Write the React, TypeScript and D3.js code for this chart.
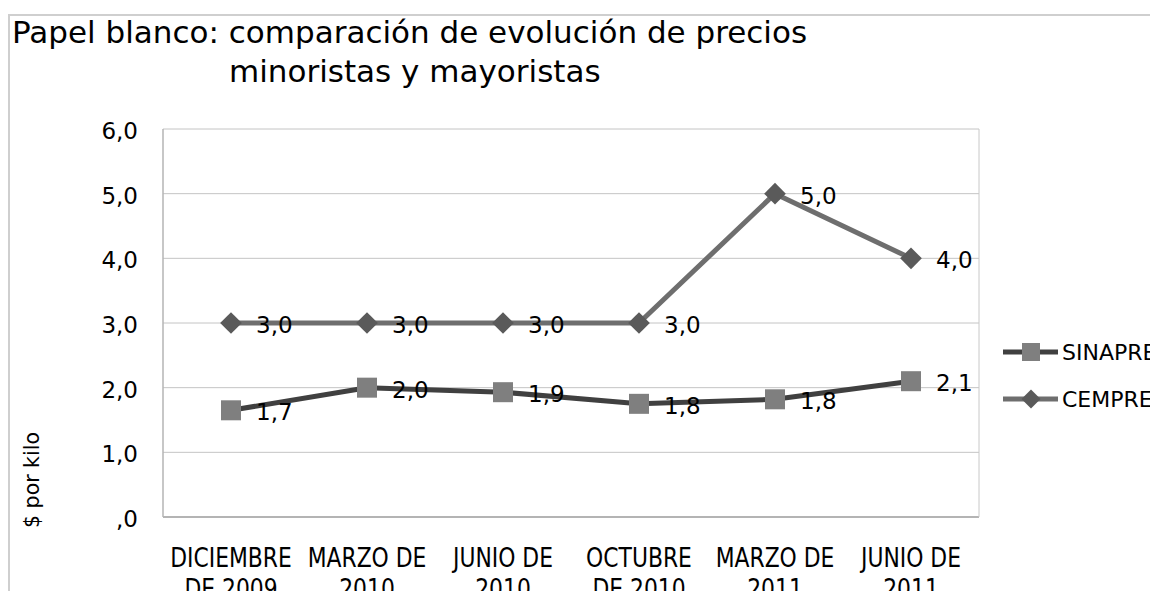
import React, { useEffect, useRef } from "react";
import * as d3 from "d3";

const categories = [
  ["DICIEMBRE", "DE 2009"],
  ["MARZO DE", "2010"],
  ["JUNIO DE", "2010"],
  ["OCTUBRE", "DE 2010"],
  ["MARZO DE", "2011"],
  ["JUNIO DE", "2011"],
];
const sinapre = [1.65, 2.0, 1.93, 1.75, 1.82, 2.1];
const cempre = [3.0, 3.0, 3.0, 3.0, 5.0, 4.0];
const yTicks = [0, 1, 2, 3, 4, 5, 6];

const SANS = "'DejaVu Sans', sans-serif";
const NARROW = "'DejaVu Sans Condensed', 'DejaVu Sans', sans-serif";

const fmt = (v: number) => {
  const s = v.toFixed(1).replace(".", ",");
  return s.startsWith("0") ? s.slice(1) : s;
};

const App = () => {
  const ref = useRef<SVGSVGElement>(null);

  useEffect(() => {
    const svg = d3.select(ref.current);
    svg.selectAll("*").remove();

    const left = 163;
    const right = 979;
    const top = 129;
    const bottom = 517;

    const x = d3
      .scaleBand()
      .domain(categories.map((_, i) => String(i)))
      .range([left, right]);
    const y = d3.scaleLinear().domain([0, 6]).range([bottom, top]);
    const cx = (i: number) => (x(String(i)) as number) + x.bandwidth() / 2;

    // outer frame
    svg.append("path")
      .attr("d", "M9,591 V15 H1150")
      .attr("fill", "none")
      .attr("stroke", "#cfcfcf")
      .attr("stroke-width", 2);

    // title
    const title = svg.append("text")
      .attr("font-family", SANS)
      .attr("font-size", 31)
      .attr("fill", "#000");
    title.append("tspan").attr("x", 12).attr("y", 43)
      .text("Papel blanco: comparación de evolución de precios");
    title.append("tspan").attr("x", 229).attr("y", 82)
      .text("minoristas y mayoristas");

    // grid
    svg.append("g")
      .selectAll("line")
      .data(yTicks)
      .join("line")
      .attr("x1", left)
      .attr("x2", right)
      .attr("y1", (d) => y(d))
      .attr("y2", (d) => y(d))
      .attr("stroke", (d) => (d === 0 ? "#b4b4b4" : "#c4c4c4"))
      .attr("stroke-width", (d) => (d === 0 ? 2 : 1));

    svg.append("line")
      .attr("x1", left).attr("x2", left)
      .attr("y1", top).attr("y2", bottom)
      .attr("stroke", "#b4b4b4").attr("stroke-width", 1.5);
    svg.append("line")
      .attr("x1", right).attr("x2", right)
      .attr("y1", top).attr("y2", bottom)
      .attr("stroke", "#c8c8c8").attr("stroke-width", 1);

    // y tick labels
    svg.append("g")
      .selectAll("text")
      .data(yTicks)
      .join("text")
      .attr("x", 138)
      .attr("y", (d) => y(d) + 10)
      .attr("text-anchor", "end")
      .attr("font-family", SANS)
      .attr("font-size", 23)
      .text((d) => fmt(d));

    // y title
    svg.append("text")
      .attr("transform", "translate(39,480) rotate(-90)")
      .attr("text-anchor", "middle")
      .attr("font-family", SANS)
      .attr("font-size", 20.5)
      .text("$ por kilo");

    // x labels (squeezed a bit to get the narrow look)
    const xl = svg.append("g")
      .selectAll("text")
      .data(categories)
      .join("text")
      .attr("transform", (_, i) => `translate(${cx(i)},0) scale(0.9,1)`)
      .attr("font-family", NARROW)
      .attr("font-size", 27)
      .attr("text-anchor", "middle");
    xl.append("tspan").attr("x", 0).attr("y", 567).text((d) => d[0]);
    xl.append("tspan").attr("x", 0).attr("y", 598).text((d) => d[1]);

    const line = d3.line<number>().x((_, i) => cx(i)).y((d) => y(d));

    const diamond = d3.symbol().type(d3.symbolDiamond2).size(300);

    // CEMPRE
    svg.append("path")
      .datum(cempre)
      .attr("d", line)
      .attr("fill", "none")
      .attr("stroke", "#6e6e6e")
      .attr("stroke-width", 5)
      .attr("stroke-linejoin", "round");
    svg.append("g")
      .selectAll("path")
      .data(cempre)
      .join("path")
      .attr("d", diamond())
      .attr("transform", (d, i) => `translate(${cx(i)},${y(d)})`)
      .attr("fill", "#5a5a5a");

    // SINAPRE
    svg.append("path")
      .datum(sinapre)
      .attr("d", line)
      .attr("fill", "none")
      .attr("stroke", "#404040")
      .attr("stroke-width", 5)
      .attr("stroke-linejoin", "round");
    svg.append("g")
      .selectAll("rect")
      .data(sinapre)
      .join("rect")
      .attr("x", (_, i) => cx(i) - 10)
      .attr("y", (d) => y(d) - 10)
      .attr("width", 20)
      .attr("height", 20)
      .attr("fill", "#7f7f7f");

    // data labels
    const labels = (vals: number[]) =>
      svg.append("g")
        .selectAll("text")
        .data(vals)
        .join("text")
        .attr("x", (_, i) => cx(i) + 25)
        .attr("y", (d) => y(d) + 10)
        .attr("font-family", SANS)
        .attr("font-size", 23)
        .text((d) => fmt(Math.round(d * 10) / 10));
    labels(cempre);
    labels(sinapre);

    // legend
    const legend = [
      { name: "SINAPRE", y: 352, stroke: "#404040", mark: "rect" },
      { name: "CEMPRE", y: 399, stroke: "#6e6e6e", mark: "diamond" },
    ];
    legend.forEach((l) => {
      svg.append("line")
        .attr("x1", 1003).attr("x2", 1058)
        .attr("y1", l.y).attr("y2", l.y)
        .attr("stroke", l.stroke).attr("stroke-width", 5);
      if (l.mark === "rect") {
        svg.append("rect")
          .attr("x", 1022).attr("y", l.y - 9)
          .attr("width", 18).attr("height", 18)
          .attr("fill", "#7f7f7f");
      } else {
        svg.append("path")
          .attr("d", d3.symbol().type(d3.symbolDiamond2).size(230)())
          .attr("transform", `translate(1031,${l.y})`)
          .attr("fill", "#5a5a5a");
      }
      svg.append("text")
        .attr("x", 1062)
        .attr("y", l.y + 8)
        .attr("font-family", SANS)
        .attr("font-size", 22)
        .text(l.name);
    });
  }, []);

  return (
    <svg
      ref={ref}
      width={1150}
      height={591}
      style={{ position: "absolute", left: 0, top: 0, background: "#fff" }}
    />
  );
};

export default App;
